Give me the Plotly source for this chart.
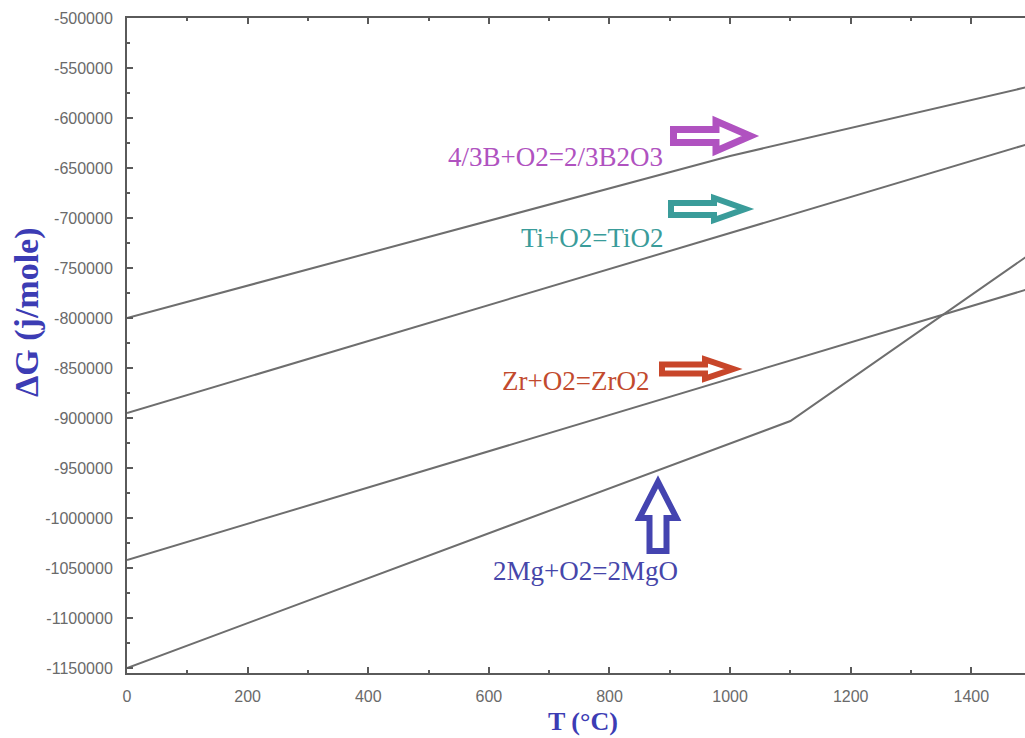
import plotly.graph_objects as go

# ---- data ----
T_B = [0, 1000, 1500]
G_B = [-800000, -638000, -568000]
T_Ti = [0, 1500]
G_Ti = [-895000, -625000]
T_Zr = [0, 1500]
G_Zr = [-1042000, -770000]
T_Mg = [0, 1100, 1500]
G_Mg = [-1150000, -903000, -735000]

x_ticks = [0, 200, 400, 600, 800, 1000, 1200, 1400]
y_ticks = list(range(-1150000, -499999, 50000))

labels = ["4/3B+O2=2/3B2O3", "Ti+O2=TiO2", "Zr+O2=ZrO2", "2Mg+O2=2MgO"]
label_colors = ["#b052c0", "#3a9c9a", "#c24a2e", "#4646aa"]

W, H = 1025, 738
SL, ST, SR, SB = 127, 18, 1025, 673          # plot-area edges in screen pixels
L, T, R, B = SL, ST, W - SR, H - SB
PW, PH = W - L - R, H - T - B


def px(xs):
    return (xs - SL) / PW


def py(ys):
    return (SB - ys) / PH


def right_arrow(x0, x1, x2, cy, sh, hh, lw):
    h = lw / 2
    pts = [(x0 + h, cy - sh + h), (x1, cy - sh + h), (x1, cy - hh + h), (x2 - h * 1.6, cy),
           (x1, cy + hh - h), (x1, cy + sh - h), (x0 + h, cy + sh - h)]
    return "M " + " L ".join(f"{px(a):.5f},{py(b):.5f}" for a, b in pts) + " Z"


def up_arrow(cx, ytip, ybase, ybot, sw, hw, lw):
    h = lw / 2
    pts = [(cx - sw + h, ybot - h), (cx - sw + h, ybase), (cx - hw + h, ybase), (cx, ytip + h * 1.6),
           (cx + hw - h, ybase), (cx + sw - h, ybase), (cx + sw - h, ybot - h)]
    return "M " + " L ".join(f"{px(a):.5f},{py(b):.5f}" for a, b in pts) + " Z"


fig = go.Figure()
line_style = dict(color="#6e6e6e", width=2)
for xs, ys, nm in [(T_B, G_B, "B"), (T_Ti, G_Ti, "Ti"), (T_Zr, G_Zr, "Zr"), (T_Mg, G_Mg, "Mg")]:
    fig.add_trace(go.Scatter(x=xs, y=ys, mode="lines", line=line_style, name=nm,
                             showlegend=False, hoverinfo="skip"))

shapes = [
    dict(type="path", xref="paper", yref="paper",
         path=right_arrow(670, 716, 756, 136, 10, 18.5, 7),
         line=dict(color="#b052c0", width=7), fillcolor="white"),
    dict(type="path", xref="paper", yref="paper",
         path=right_arrow(668, 714, 750, 209, 9, 14, 6),
         line=dict(color="#3a9c9a", width=6), fillcolor="white"),
    dict(type="path", xref="paper", yref="paper",
         path=right_arrow(659, 705, 738, 369, 7.5, 12.5, 6),
         line=dict(color="#c8462a", width=6), fillcolor="white"),
    dict(type="path", xref="paper", yref="paper",
         path=up_arrow(658, 477, 518, 554, 11.5, 21.5, 6),
         line=dict(color="#4444b0", width=6), fillcolor="white"),
]

serif = "Liberation Serif, Times New Roman, serif"
annotations = []
label_pos = [(555, 157), (592, 238), (575, 381), (585, 571)]
for txt, col, (xx, yy) in zip(labels, label_colors, label_pos):
    annotations.append(dict(text=txt, x=px(xx), y=py(yy), xref="paper", yref="paper",
                            showarrow=False, xanchor="center", yanchor="middle",
                            font=dict(family=serif, size=27, color=col)))
annotations.append(dict(text="<b>T (°C)</b>", x=px(583), y=py(721), xref="paper", yref="paper",
                        showarrow=False, xanchor="center", yanchor="middle",
                        font=dict(family=serif, size=26, color="#3c3cb4")))
annotations.append(dict(text="<b>ΔG (j/mole)</b>", x=px(27), y=py(312), xref="paper", yref="paper",
                        showarrow=False, xanchor="center", yanchor="middle", textangle=-90,
                        font=dict(family=serif, size=34, color="#3c3cb4")))

tickfont = dict(family="Liberation Sans, Arial, sans-serif", size=16, color="#6a6a6a")
fig.update_layout(
    width=W, height=H,
    margin=dict(l=L, r=R, t=T, b=B, pad=0),
    paper_bgcolor="white", plot_bgcolor="white",
    shapes=shapes, annotations=annotations,
    xaxis=dict(range=[0, 1489], tickvals=x_ticks, ticktext=[str(v) for v in x_ticks],
               showgrid=False, zeroline=False, showline=True, linecolor="#5a5a5a", linewidth=2,
               mirror="ticks", ticks="inside", ticklen=6, tickwidth=1.5, tickcolor="#5a5a5a",
               minor=dict(ticks="inside", ticklen=3, dtick=100, tickcolor="#5a5a5a", tickwidth=1.5),
               tickfont=tickfont, ticklabelstandoff=8),
    yaxis=dict(range=[-1155000, -500000], tickvals=y_ticks, ticktext=[str(v) for v in y_ticks],
               showgrid=False, zeroline=False, showline=True, linecolor="#5a5a5a", linewidth=2,
               mirror=False, ticks="inside", ticklen=6, tickwidth=1.5, tickcolor="#5a5a5a",
               minor=dict(ticks="inside", ticklen=3, dtick=25000, tickcolor="#5a5a5a", tickwidth=1.5),
               tickfont=tickfont, ticklabelstandoff=9),
)

fig.write_html("out.html", config={"displayModeBar": False},
               post_script="document.body.style.margin='0';document.body.style.overflow='hidden';")
